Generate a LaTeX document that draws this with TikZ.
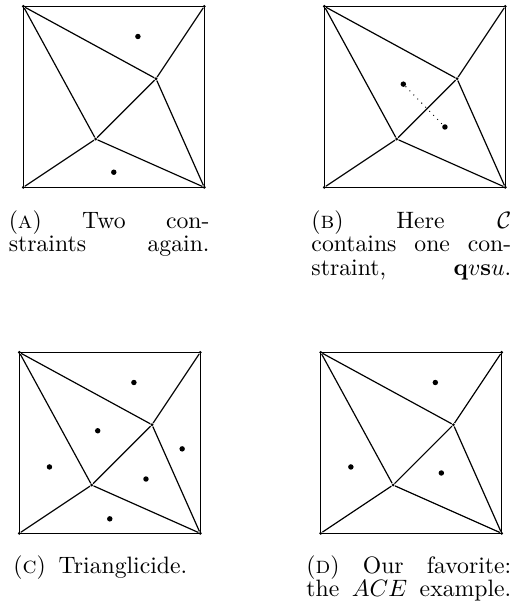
\documentclass[tikz,border=0pt]{standalone}
\newcommand\tripanel[1]{%
  \node[vtx] (#1bl) at (0,0) {};
  \node[vtx] (#1br) at (3,0) {};
  \node[vtx] (#1tr) at (3,3) {};
  \node[vtx] (#1tl) at (0,3) {};
  \node[vtx] (#1p) at (2.2,1.8) {};
  \node[vtx] (#1q) at (1.2,0.8) {};
  \draw[edge] (#1bl.center) -- (#1br.center) -- (#1tr.center) -- (#1tl.center) -- cycle;
  \draw[edge] (#1tl) -- (#1p);
  \draw[edge] (#1tl) -- (#1q);
  \draw[edge] (#1tr) -- (#1p);
  \draw[edge] (#1p) -- (#1q);
  \draw[edge] (#1p) -- (#1br);
  \draw[edge] (#1q) -- (#1bl);
  \draw[edge] (#1q) -- (#1br);
}
\begin{document}
\begin{tikzpicture}[x=0.4219pt,y=-0.4219pt,
  edge/.style={line width=0.5pt},
  vtx/.style={circle,fill,inner sep=0pt,minimum size=1.3pt},
  cdot/.style={circle,fill,inner sep=0pt,minimum size=2.3pt},
  capt/.style={anchor=base west,inner sep=0pt,align=left,font={\fontsize{10pt}{9.9pt}\selectfont}},
  panel/.style={x=25.45pt,y=25.45pt}]
\useasboundingbox (0,0) rectangle (513,608);

% (a)
\begin{scope}[shift={(23.3,187.3)},panel]
  \tripanel{a}
  \node[cdot] (a1) at (1.9,2.5) {};
  \node[cdot] (a2) at (1.5,0.25) {};
\end{scope}
% (b)
\begin{scope}[shift={(324.3,187.3)},panel]
  \tripanel{b}
  \node[cdot] (b1) at (1.31,1.71) {};
  \node[cdot] (b2) at (2.0,1.0) {};
  \draw[dotted,line width=0.4pt] (b1) -- (b2);
\end{scope}
% (c)
\begin{scope}[shift={(19.3,533.3)},panel]
  \tripanel{c}
  \node[cdot] (c1) at (1.9,2.5) {};
  \node[cdot] (c2) at (1.3,1.7) {};
  \node[cdot] (c3) at (2.7,1.4) {};
  \node[cdot] (c4) at (0.5,1.1) {};
  \node[cdot] (c5) at (2.1,0.9) {};
  \node[cdot] (c6) at (1.5,0.24) {};
\end{scope}
% (d)
\begin{scope}[shift={(320.7,533.3)},panel]
  \tripanel{d}
  \node[cdot] (d1) at (1.9,2.5) {};
  \node[cdot] (d2) at (0.5,1.1) {};
  \node[cdot] (d3) at (2.0,1.0) {};
\end{scope}

\node[capt,text width=84.7pt] (capa) at (8.3,228.5)
  {(\textsc{a})\hfill Two\hfill con-\\straints\hfill again.};
\node[capt,text width=84.3pt] (capb) at (311,228.5)
  {(\textsc{b})\hfill Here\hfill $\mathcal{C}$\\contains\hfill one\hfill con-\\straint,\hfill $\mathbf{q}v\mathbf{s}u$.};
\node[capt] (capc) at (13,573.5)
  {(\textsc{c})\hspace{5.4pt}Trianglicide.};
\node[capt,text width=86.4pt] (capd) at (306,573.5)
  {(\textsc{d})\hfill Our\hfill favorite:\\the\hfill $ACE$\hfill example.};
\end{tikzpicture}
\end{document}
